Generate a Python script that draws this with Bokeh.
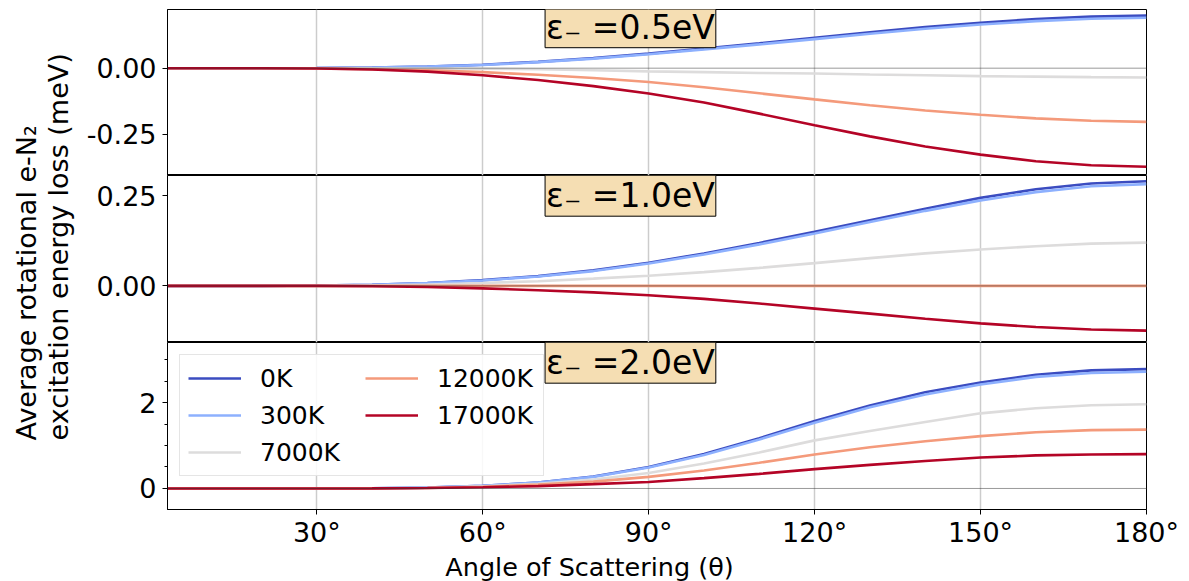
import numpy as np
from bokeh.plotting import figure
from bokeh.layouts import row, column
from bokeh.models import FixedTicker, Span, Label, Legend, LegendItem
from bokeh.embed import file_html
from bokeh.resources import INLINE

# ---------------- data ----------------
angles = [0, 10, 20, 30, 40, 50, 60, 70, 80, 90, 100, 110, 120, 130, 140, 150, 160, 170, 180]
temps = ["0K", "300K", "7000K", "12000K", "17000K"]
colors = ["#3b4cc0", "#8db0fe", "#dddcdc", "#f49a7b", "#b40426"]

# eps = 0.5 eV
e05_0K = [0, 0, 0, 0.0005, 0.002, 0.006, 0.013, 0.024, 0.038, 0.055, 0.074, 0.094, 0.115, 0.136, 0.156, 0.172, 0.186, 0.195, 0.199]
e05_300K = [0, 0, 0, 0.0005, 0.002, 0.006, 0.012, 0.023, 0.036, 0.053, 0.071, 0.090, 0.110, 0.130, 0.149, 0.165, 0.178, 0.187, 0.191]
e05_7000K = [0, 0, 0, 0, -0.0005, -0.001, -0.002, -0.004, -0.008, -0.012, -0.015, -0.018, -0.020, -0.024, -0.027, -0.030, -0.032, -0.034, -0.035]
e05_12000K = [0, 0, 0, -0.001, -0.004, -0.008, -0.015, -0.025, -0.037, -0.052, -0.072, -0.095, -0.118, -0.140, -0.160, -0.176, -0.190, -0.199, -0.203]
e05_17000K = [0, 0, 0, -0.001, -0.005, -0.013, -0.027, -0.045, -0.068, -0.096, -0.130, -0.172, -0.216, -0.258, -0.296, -0.327, -0.352, -0.367, -0.373]

# eps = 1.0 eV
e10_0K = [0, 0, 0, 0.001, 0.003, 0.008, 0.016, 0.027, 0.043, 0.064, 0.090, 0.119, 0.150, 0.182, 0.214, 0.244, 0.268, 0.284, 0.290]
e10_300K = [0, 0, 0, 0.001, 0.003, 0.008, 0.015, 0.026, 0.041, 0.062, 0.087, 0.115, 0.145, 0.177, 0.208, 0.237, 0.260, 0.276, 0.282]
e10_7000K = [0, 0, 0, 0, 0.001, 0.004, 0.008, 0.013, 0.020, 0.028, 0.038, 0.050, 0.063, 0.077, 0.090, 0.101, 0.110, 0.117, 0.120]
e10_12000K = [0, 0, 0, 0, 0, 0, 0, 0, 0, 0, 0, 0, 0, 0, 0, 0, 0, 0, 0]
e10_17000K = [0, 0, 0, 0, -0.001, -0.003, -0.007, -0.012, -0.018, -0.026, -0.036, -0.049, -0.063, -0.077, -0.091, -0.104, -0.114, -0.121, -0.124]

# eps = 2.0 eV
e20_0K = [0, 0, 0, 0.001, 0.005, 0.02, 0.06, 0.14, 0.28, 0.50, 0.80, 1.17, 1.57, 1.93, 2.24, 2.47, 2.65, 2.75, 2.78]
e20_300K = [0, 0, 0, 0.001, 0.005, 0.02, 0.06, 0.14, 0.27, 0.49, 0.78, 1.14, 1.53, 1.89, 2.19, 2.42, 2.60, 2.69, 2.72]
e20_7000K = [0, 0, 0, 0.001, 0.004, 0.015, 0.05, 0.11, 0.21, 0.36, 0.58, 0.84, 1.12, 1.34, 1.55, 1.75, 1.87, 1.94, 1.96]
e20_12000K = [0, 0, 0, 0.0005, 0.003, 0.012, 0.04, 0.09, 0.16, 0.27, 0.42, 0.60, 0.79, 0.96, 1.10, 1.22, 1.31, 1.36, 1.37]
e20_17000K = [0, 0, 0, 0.0005, 0.002, 0.01, 0.03, 0.055, 0.10, 0.15, 0.24, 0.34, 0.45, 0.55, 0.64, 0.72, 0.77, 0.79, 0.80]

titles = ["ε₋ =0.5eV", "ε₋ =1.0eV", "ε₋ =2.0eV"]
x_ticks = [30, 60, 90, 120, 150, 180]
y_ticks = [[0.0, -0.25], [0.0, 0.25], [0, 2]]
y_tick_labels = [["0.00", "-0.25"], ["0.00", "0.25"], ["0", "2"]]
y_minor = [[], [], [0.5, 1, 1.5, 2.5, 3]]
x_label = "Angle of Scattering (θ)"
y_label_1 = "Average rotational e-N₂"
y_label_2 = "excitation energy loss (meV)"

panel_series = [
    [e05_0K, e05_300K, e05_7000K, e05_12000K, e05_17000K],
    [e10_0K, e10_300K, e10_7000K, e10_12000K, e10_17000K],
    [e20_0K, e20_300K, e20_7000K, e20_12000K, e20_17000K],
]
y_ranges = [(-0.406, 0.222), (-0.157, 0.306), (-0.49, 3.40)]
title_y = [0.155, 0.25, 2.93]
heights = [175, 167, 209]
borders_top = [9, 0, 0]
borders_bottom = [0, 0, 42]

FONT = "DejaVu Sans"
TICK_FS = "27px"

figs = []
for i in range(3):
    last = (i == 2)
    p = figure(width=1109, height=heights[i], x_range=(3, 180), y_range=y_ranges[i],
               output_backend="svg", toolbar_location=None,
               x_axis_location="below" if last else None,
               min_border_left=87, min_border_right=43,
               min_border_top=borders_top[i], min_border_bottom=borders_bottom[i])
    p.outline_line_color = "black"
    p.outline_line_width = 1
    p.background_fill_color = "white"
    p.border_fill_color = "white"
    p.ygrid.visible = False
    p.xgrid.ticker = FixedTicker(ticks=x_ticks)
    p.xgrid.grid_line_color = "#cccccc"
    p.xgrid.grid_line_width = 1.5
    if last:
        p.xaxis.ticker = FixedTicker(ticks=x_ticks)
        p.xaxis.major_label_overrides = {t: f"{t}°" for t in x_ticks}
        p.xaxis.major_label_text_font = FONT
        p.xaxis.major_label_text_font_size = TICK_FS
        p.xaxis.major_label_text_color = "black"
        p.xaxis.major_tick_out = 5
        p.xaxis.major_tick_in = 0
        p.xaxis.minor_tick_line_color = None
        p.xaxis.axis_line_color = "black"
        p.xaxis.major_label_standoff = 2
    p.yaxis.ticker = FixedTicker(ticks=y_ticks[i], minor_ticks=y_minor[i])
    p.yaxis.major_label_overrides = {t: l for t, l in zip(y_ticks[i], y_tick_labels[i])}
    p.yaxis.major_label_text_font = FONT
    p.yaxis.major_label_text_font_size = TICK_FS
    p.yaxis.major_label_text_color = "black"
    p.yaxis.major_tick_out = 5
    p.yaxis.major_tick_in = 0
    p.yaxis.minor_tick_out = 3
    p.yaxis.minor_tick_in = 0
    p.yaxis.axis_line_color = "black"
    p.yaxis.major_label_standoff = 6

    renderers = []
    for s, c in zip(panel_series[i], colors):
        r = p.line(angles, s, line_color=c, line_width=2.6)
        renderers.append(r)

    p.add_layout(Span(location=0, dimension="width", line_color="#333333", line_width=1, line_dash="1 1"))

    p.add_layout(Label(x=86.7, y=title_y[i], text=titles[i], text_align="center", text_baseline="middle",
                       text_font=FONT, text_font_size="33px", text_color="black",
                       background_fill_color="#f5deb3", border_line_color="black", border_line_width=1,
                       padding=1))

    if last:
        items = [LegendItem(label=t, renderers=[r]) for t, r in zip(temps, renderers)]
        leg = Legend(items=items, location="top_left", nrows=3, orientation="vertical",
                     label_text_font=FONT, label_text_font_size="25px", label_text_color="black",
                     glyph_width=53, glyph_height=30, label_height=30, label_width=98,
                     label_standoff=19, spacing=7, padding=8, margin=12,
                     border_line_color="#cccccc", border_line_width=1,
                     background_fill_color="white", background_fill_alpha=0.85)
        p.add_layout(leg)
    figs.append(p)

lab = figure(width=80, height=551, x_range=(0, 80), y_range=(0, 551), output_backend="svg",
             toolbar_location=None, x_axis_location=None, y_axis_location=None, min_border=0)
lab.outline_line_color = None
lab.xgrid.visible = False
lab.ygrid.visible = False
lab.add_layout(Label(x=26, y=111, text=y_label_1, angle=np.pi / 2, text_align="left",
                     text_baseline="middle", text_font=FONT, text_font_size="27px", text_color="black"))
lab.add_layout(Label(x=58, y=111, text=y_label_2, angle=np.pi / 2, text_align="left",
                     text_baseline="middle", text_font=FONT, text_font_size="27px", text_color="black"))

xl = figure(width=1189, height=30, x_range=(0, 1189), y_range=(0, 30), output_backend="svg",
            toolbar_location=None, x_axis_location=None, y_axis_location=None, min_border=0)
xl.outline_line_color = None
xl.xgrid.visible = False
xl.ygrid.visible = False
xl.add_layout(Label(x=589, y=15, text=x_label, text_align="center", text_baseline="middle",
                    text_font=FONT, text_font_size="25.5px", text_color="black"))

layout = column(row(lab, column(*figs, spacing=0), spacing=0), xl, spacing=0)
open("out.html", "w").write(file_html(layout, INLINE))
